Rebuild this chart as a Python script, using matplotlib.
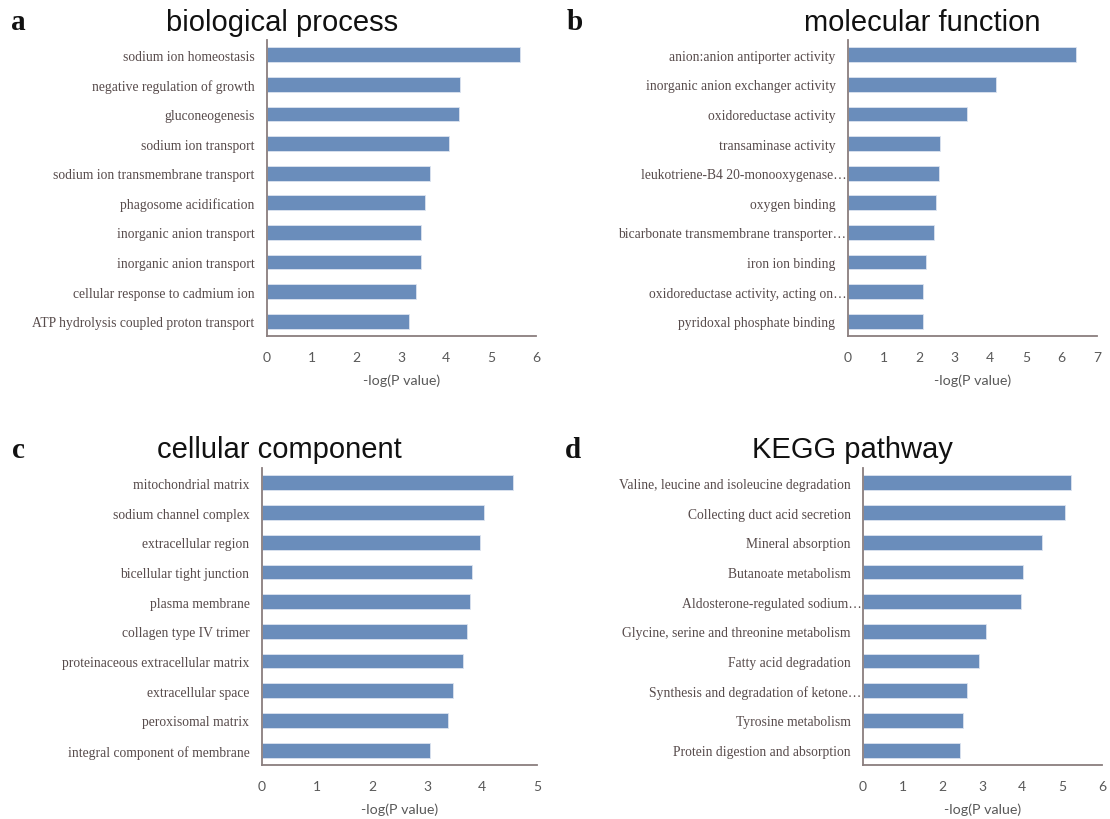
import matplotlib
matplotlib.use("Agg")
import matplotlib.pyplot as plt
from matplotlib.transforms import ScaledTranslation

# ---------------- data ----------------
bp_terms = ["sodium ion homeostasis", "negative regulation of growth", "gluconeogenesis",
            "sodium ion transport", "sodium ion transmembrane transport", "phagosome acidification",
            "inorganic anion transport", "inorganic anion transport",
            "cellular response to cadmium ion", "ATP hydrolysis coupled proton transport"]
bp_values = [5.64, 4.30, 4.28, 4.07, 3.64, 3.52, 3.43, 3.43, 3.32, 3.16]

mf_terms = ["anion:anion antiporter activity", "inorganic anion exchanger activity",
            "oxidoreductase activity", "transaminase activity",
            "leukotriene-B4 20-monooxygenase\u2026", "oxygen binding",
            "bicarbonate transmembrane transporter\u2026", "iron ion binding",
            "oxidoreductase activity, acting on\u2026", "pyridoxal phosphate binding"]
mf_values = [6.41, 4.15, 3.34, 2.60, 2.56, 2.47, 2.41, 2.20, 2.11, 2.11]

cc_terms = ["mitochondrial matrix", "sodium channel complex", "extracellular region",
            "bicellular tight junction", "plasma membrane", "collagen type IV trimer",
            "proteinaceous extracellular matrix", "extracellular space",
            "peroxisomal matrix", "integral component of membrane"]
cc_values = [4.57, 4.03, 3.97, 3.81, 3.79, 3.73, 3.65, 3.47, 3.38, 3.05]

kegg_terms = ["Valine, leucine and isoleucine degradation", "Collecting duct acid secretion",
              "Mineral absorption", "Butanoate metabolism", "Aldosterone-regulated sodium\u2026",
              "Glycine, serine and threonine metabolism", "Fatty acid degradation",
              "Synthesis and degradation of ketone\u2026", "Tyrosine metabolism",
              "Protein digestion and absorption"]
kegg_values = [5.21, 5.08, 4.50, 4.02, 3.97, 3.09, 2.92, 2.61, 2.51, 2.43]

titles = ["biological process", "molecular function", "cellular component", "KEGG pathway"]
letters = ["a", "b", "c", "d"]
xmaxes = [6, 7, 5, 6]
xlabel = "-log(P value)"

# ---------------- style ----------------
W, H = 1110, 820
fig = plt.figure(figsize=(W / 100, H / 100), dpi=100)
fig.patch.set_facecolor("white")

bar_color = "#6A8DBB"
spine_color = "#8A7E7E"
label_color = "#574B4B"
tick_color = "#595959"

# axes boxes in pixels: left, right, top, bottom
boxes = [(267, 536, 41, 337), (848, 1097, 41, 337),
         (262, 537, 469, 766), (863, 1102, 469, 766)]
title_pos = [(282, 23), (922, 23), (279, 450), (852, 450)]
letter_pos = [(18, 23), (575, 23), (18, 451), (573, 451)]

datasets = [(bp_terms, bp_values), (mf_terms, mf_values),
            (cc_terms, cc_values), (kegg_terms, kegg_values)]

for i, ((terms, vals), (l, r, t, b)) in enumerate(zip(datasets, boxes)):
    ax = fig.add_axes([l / W, 1 - b / H, (r - l) / W, (b - t) / H])
    ypos = list(range(len(terms)))
    ax.barh(ypos, vals, height=0.5, color=bar_color, edgecolor="#DCE4F0",
            linewidth=0.6)
    ax.set_ylim(len(terms) - 0.5, -0.5)
    ax.set_xlim(0, xmaxes[i])
    ax.set_xticks(range(0, xmaxes[i] + 1))
    ax.set_yticks(ypos)
    ax.set_yticklabels(terms, fontfamily="Liberation Serif", fontsize=9.8,
                       color=label_color)
    ax.tick_params(axis="y", length=0, pad=9)
    ax.tick_params(axis="x", length=0, pad=11, labelsize=10, labelcolor=tick_color)
    for lab in ax.get_xticklabels():
        lab.set_fontfamily("Lato")
    # truncated labels reach closer to the axis
    for lab in ax.get_yticklabels():
        if lab.get_text().endswith("\u2026"):
            lab.set_transform(lab.get_transform() +
                              ScaledTranslation(8 / 72, 0, fig.dpi_scale_trans))
    ax.set_xlabel(xlabel, fontfamily="Lato", fontsize=10.3, color=tick_color, labelpad=7.5)
    for s in ["top", "right"]:
        ax.spines[s].set_visible(False)
    for s in ["left", "bottom"]:
        ax.spines[s].set_color(spine_color)
        ax.spines[s].set_linewidth(1.3)

    tx, ty = title_pos[i]
    fig.text(tx / W, 1 - ty / H, titles[i], fontfamily="Liberation Sans", fontsize=21,
             ha="center", va="center", color="#111111")
    lx, ly = letter_pos[i]
    fig.text(lx / W, 1 - ly / H, letters[i], fontfamily="Liberation Serif", fontsize=21,
             fontweight="bold", ha="center", va="center", color="#111111")

fig.savefig("out.png", dpi=100, facecolor="white")
